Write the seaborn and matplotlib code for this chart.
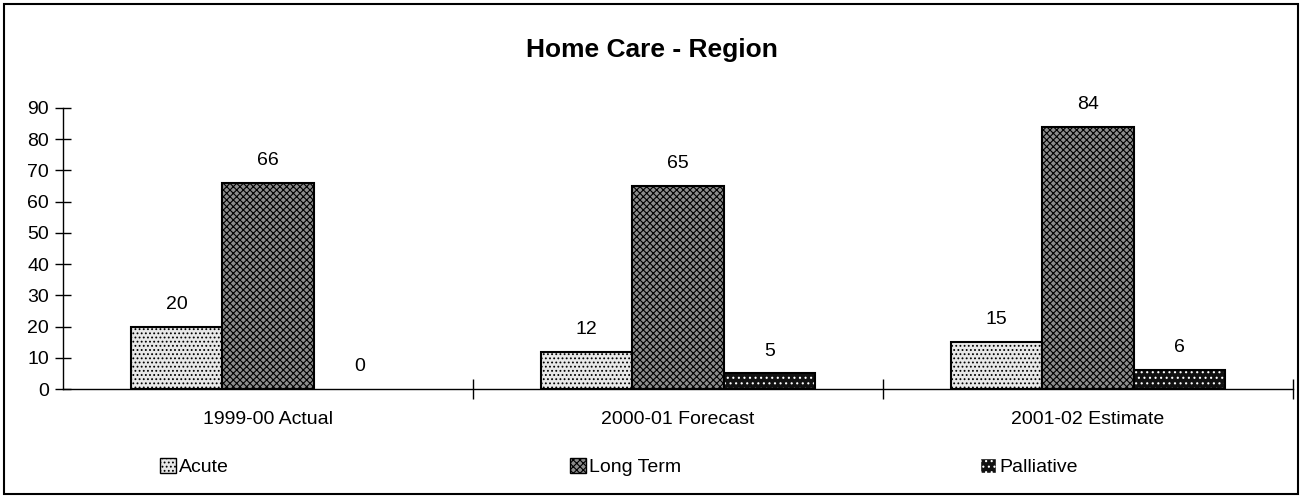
import matplotlib
matplotlib.use('Agg')
import matplotlib.pyplot as plt
from matplotlib.patches import Rectangle, Patch
import numpy as np
import pandas as pd
import seaborn as sns

########## data ##########
periods = ['1999-00 Actual', '2000-01 Forecast', '2001-02 Estimate']
types = ['Acute', 'Long Term', 'Palliative']
acute = [20, 12, 15]
long_term = [66, 65, 84]
palliative = [0, 5, 6]
y_ticks = [0, 10, 20, 30, 40, 50, 60, 70, 80, 90]

# styles per series
faces = ['#e8e8e8', '#8c8c8c', '#111111']
hatches = ['....', 'xxxxx', '...']
edges = ['black', 'black', 'white']

sns.set_theme(style='white')
plt.rcParams['font.family'] = ['Liberation Sans', 'DejaVu Sans']
plt.rcParams['hatch.linewidth'] = 0.8
plt.rcParams['text.color'] = 'black'
plt.rcParams['xtick.color'] = 'black'
plt.rcParams['ytick.color'] = 'black'

df = pd.DataFrame({
    'period': periods * 3,
    'type': [types[0]] * 3 + [types[1]] * 3 + [types[2]] * 3,
    'value': acute + long_term + palliative,
})

fig = plt.figure(figsize=(13.03, 4.96), dpi=100)
ax = fig.add_axes([63 / 1303, 1 - 389 / 496, 1230 / 1303, 281 / 496])

sns.barplot(data=df, x='period', y='value', hue='type', hue_order=types,
            order=periods, palette=faces, width=0.67, edgecolor='black',
            linewidth=1.5, saturation=1, legend=False, ax=ax)

for cont, h, ec in zip(ax.containers, hatches, edges):
    for bar in cont:
        bar.set_hatch(h)
        bar.set_edgecolor(ec)
        if bar.get_height() == 0:
            bar.set_linewidth(0)
        elif ec == 'white':
            # white dots need a white hatch, so draw the black outline on top
            bar.set_linewidth(0.1)
            ax.add_patch(Rectangle(bar.get_xy(), bar.get_width(), bar.get_height(),
                                   fill=False, edgecolor='black', linewidth=1.5))
    ax.bar_label(cont, fmt='%d', padding=10, fontsize=14, color='black')

ax.set_ylim(0, 90)
ax.set_xlim(-0.5, 2.5)
ax.set_yticks(y_ticks)
ax.set_xlabel('')
ax.set_ylabel('')
ax.tick_params(axis='y', direction='inout', length=12, width=1, labelsize=14,
               left=True, pad=4, color='black', labelcolor='black')
ax.tick_params(axis='x', which='major', length=0, labelsize=14, pad=16,
               labelcolor='black')
ax.set_xticks([0.5, 1.5, 2.5], minor=True)
ax.tick_params(axis='x', which='minor', direction='inout', length=14,
               width=1, bottom=True, color='black')
for s in ['top', 'right']:
    ax.spines[s].set_visible(False)
for s in ['left', 'bottom']:
    ax.spines[s].set_color('black')
    ax.spines[s].set_linewidth(1)

fig.suptitle('Home Care - Region', y=1 - 50 / 496, va='center',
             fontsize=19, fontweight='bold', color='black')

# legend entries spread along the bottom
leg_x = [160, 570, 980]
for t, fc, h, ec, x in zip(types, faces, hatches, edges, leg_x):
    handle = Patch(facecolor=fc, edgecolor=ec, hatch=h, linewidth=1)
    fig.legend(handles=[handle], labels=[t], loc='center left',
               bbox_to_anchor=(x / 1303, 1 - 467 / 496), frameon=False,
               fontsize=14, handlelength=0.8, handleheight=0.8,
               handletextpad=0.2, borderpad=0, borderaxespad=0,
               labelcolor='black')

fig.patches.append(Rectangle((4 / 1303, 2 / 496), 1294 / 1303, 490 / 496,
                             transform=fig.transFigure, fill=False,
                             edgecolor='black', linewidth=1.5))

fig.savefig('out.png', dpi=100)
